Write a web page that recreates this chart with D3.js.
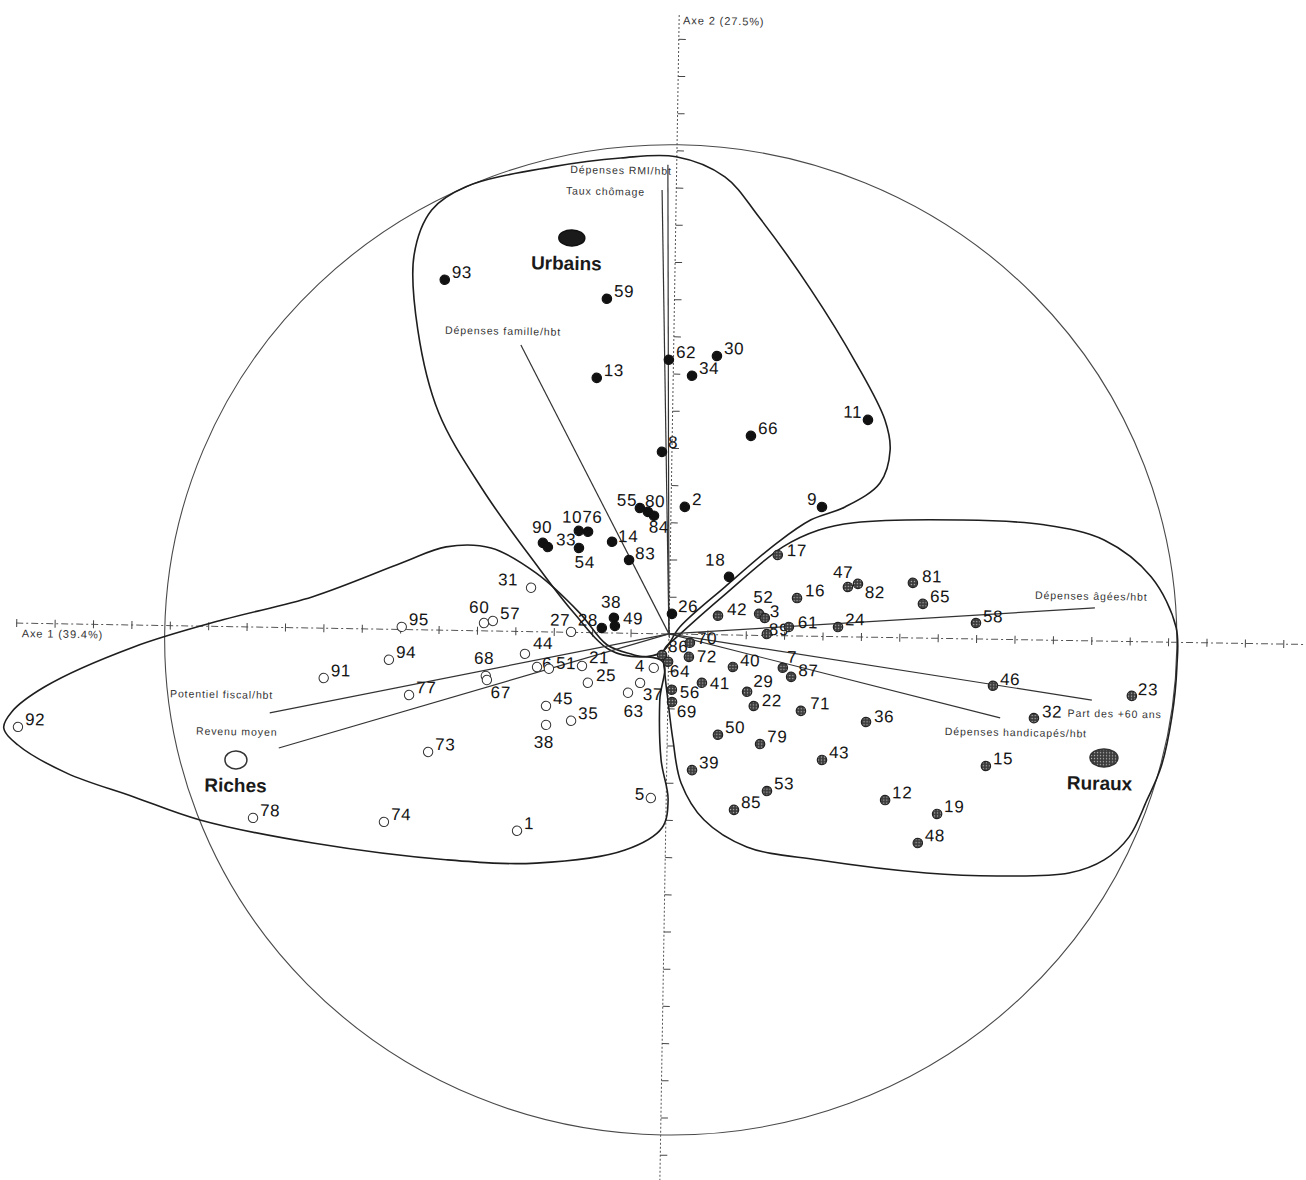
<!DOCTYPE html>
<html>
<head>
<meta charset="utf-8">
<script src="https://cdn.jsdelivr.net/npm/d3@7"></script>
<style>
  body { margin: 0; background: #fff; }
  svg { display: block; }
  text { font-family: "Liberation Sans", Arial, sans-serif; }
</style>
</head>
<body>
<svg id="chart" width="1306" height="1180"></svg>
<script>
// ------------------------------- DATA below ----------------------------------------------

// Axis titles (share of inertia)
const axisTitles = ['Axe 1 (39.4%)', 'Axe 2 (27.5%)'];

// Departements - [number, axe 1, axe 2] (tick units)
const urbains = [
  ['93', -5.99, 9.42], ['59', -1.76, 8.98], ['62', -0.12, 7.37], ['30', 1.13, 7.49],
  ['34', 0.49, 6.95], ['13', -1.99, 6.85], ['11', 5.09, 5.84], ['66', 2.05, 5.36],
  ['8', -0.26, 4.89], ['9', 3.93, 3.48], ['2', 0.36, 3.42], ['55', -0.81, 3.37],
  ['80', -0.60, 3.27], ['84', -0.44, 3.17], ['10', -2.39, 2.73], ['76', -2.15, 2.71],
  ['90', -3.32, 2.39], ['33', -3.19, 2.28], ['54', -2.38, 2.27], ['14', -1.52, 2.45],
  ['83', -1.07, 1.97], ['18', 1.54, 1.56], ['26', 0.07, 0.54], ['38', -1.44, 0.41],
  ['49', -1.41, 0.19], ['28', -1.75, 0.13]
];

const ruraux = [
  ['17', 2.80, 2.17], ['42', 1.27, 0.51], ['52', 2.34, 0.58], ['3', 2.49, 0.47],
  ['89', 2.55, 0.04], ['61', 3.12, 0.24], ['16', 3.32, 1.02], ['47', 4.64, 1.34],
  ['82', 4.90, 1.43], ['24', 4.40, 0.26], ['81', 6.33, 1.48], ['65', 6.60, 0.92],
  ['58', 7.99, 0.43], ['70', 0.55, -0.23], ['86', -0.17, -0.57], ['72', 0.53, -0.61],
  ['64', -0.01, -0.75], ['41', 0.88, -1.30], ['40', 1.68, -0.86], ['56', 0.10, -1.50],
  ['69', 0.11, -1.83], ['50', 1.32, -2.69], ['29', 2.06, -1.52], ['22', 2.24, -1.90],
  ['7', 2.98, -0.86], ['87', 3.20, -1.10], ['71', 3.47, -2.01], ['46', 8.46, -1.25],
  ['36', 5.17, -2.28], ['23', 12.08, -1.46], ['32', 9.54, -2.10], ['15', 8.31, -3.41],
  ['43', 4.04, -3.32], ['79', 2.42, -2.92], ['39', 0.66, -3.65], ['53', 2.62, -4.18],
  ['85', 1.77, -4.70], ['12', 5.70, -4.37], ['19', 7.06, -4.72], ['48', 6.57, -5.51]
];

const riches = [
  ['31', -3.61, 1.18], ['95', -6.96, 0.07], ['60', -4.82, 0.21], ['57', -4.59, 0.27],
  ['27', -2.55, 0.01], ['94', -7.28, -0.82], ['91', -8.97, -1.34], ['68', -4.75, -1.21],
  ['67', -4.72, -1.32], ['77', -6.74, -1.76], ['92', -16.91, -2.79], ['73', -6.22, -3.28],
  ['78', -10.75, -5.13], ['74', -7.34, -5.18], ['1', -3.87, -5.36], ['5', -0.40, -4.42],
  ['44', -3.74, -0.60], ['6', -3.42, -0.95], ['51', -3.11, -0.99], ['21', -2.25, -0.90],
  ['25', -2.09, -1.35], ['4', -0.38, -0.92], ['37', -0.73, -1.33], ['63', -1.04, -1.60],
  ['45', -3.17, -1.99], ['35', -2.51, -2.38], ['38', -3.16, -2.50]
];

// Active variables - [name, axe 1, axe 2]
const variables = [
  ['Dépenses RMI/hbt', -0.23, 12.61],
  ['Taux chômage', -0.37, 11.93],
  ['Dépenses famille/hbt', -3.98, 7.70],
  ['Potentiel fiscal/hbt', -10.36, -2.30],
  ['Revenu moyen', -10.11, -3.24],
  ['Dépenses âgées/hbt', 11.08, 0.89],
  ['Part des +60 ans', 11.04, -1.59],
  ['Dépenses handicapés/hbt', 8.66, -2.11]
];

// Class centres - [name, axe 1, axe 2]
const classes = [
  ['Urbains', -2.70, 10.60],
  ['Riches', -11.22, -3.58],
  ['Ruraux', 11.38, -3.14]
];

// Hand drawn class outlines
const urbainsHull = [
  [-0.17, -0.49], [-0.75, -0.63], [-1.53, -0.46], [-2.51, 0.55], [-3.52, 1.85], [-4.91, 3.79],
  [-6.09, 5.84], [-6.67, 8.06], [-6.80, 10.07], [-6.36, 11.29], [-5.48, 11.93], [-3.25, 12.50],
  [-1.46, 12.77], [-0.02, 12.83], [1.26, 12.31], [2.16, 11.25], [3.55, 9.31], [4.75, 7.37],
  [5.53, 5.85], [5.68, 5.04], [5.43, 4.15], [4.53, 3.49], [3.65, 3.13], [2.77, 2.49],
  [1.44, 1.29], [0.28, 0.19]
];
const richesHull = [
  [-0.14, -0.76], [-0.21, -1.78], [-0.15, -3.39], [0.05, -4.46], [-0.10, -5.22], [-1.05, -5.83],
  [-3.36, -6.22], [-5.71, -6.17], [-9.18, -5.78], [-12.13, -5.21], [-13.86, -4.62], [-15.62, -4.01],
  [-16.91, -3.27], [-17.28, -2.82], [-17.08, -2.39], [-16.23, -1.70], [-13.93, -0.59], [-11.62, 0.18],
  [-9.29, 0.84], [-6.98, 1.79], [-5.84, 2.24], [-4.67, 2.23], [-3.49, 1.58], [-2.33, 0.52],
  [-1.61, -0.32], [-0.90, -0.58]
];
const rurauxHull = [
  [0.24, -0.05], [1.49, 1.13], [2.93, 2.39], [3.86, 2.86], [4.77, 3.07], [7.55, 3.19],
  [9.72, 3.10], [11.29, 2.72], [12.53, 1.75], [13.20, 0.41], [13.24, -0.66], [13.13, -2.01],
  [12.87, -3.36], [12.52, -4.25], [12.07, -5.25], [11.43, -5.88], [10.52, -6.25], [8.65, -6.36],
  [6.80, -6.31], [4.00, -6.01], [2.12, -5.69], [0.99, -4.98], [0.38, -4.00], [0.15, -2.85],
  [0.00, -1.77], [-0.09, -1.05], [-0.12, -0.43]
];

// Correlation circle (centre and radii, tick units)
const circleCentre = [0.05, -0.16];
const circleRadius = [13.18, 13.31];

// ------------------------------- LAYOUT below ----------------------------------------------

const width = 1306;
const height = 1180;
const tilt = 0.95; // the scanned figure is slightly turned

// label offsets [dx, dy, anchor] - default is to the right of the marker
const labelPos = {
  u11: [-6, -2, 'end'], u9: [-5, -2, 'end'], u8: [6, -4], u55: [-3, -2, 'end'], u80: [-3, -5],
  u84: [-5, 17], u10: [3, -8, 'end'], u76: [-6, -9], u90: [-1, -10, 'middle'], u33: [8, -2],
  u54: [-4, 20], u14: [6, 0], u83: [6, -1], u18: [-4, -11, 'end'], u26: [6, -2],
  u38: [-3, -10, 'middle'], u49: [8, -2], u28: [-4, -2, 'end'],
  r27: [-1, -6, 'end'], r31: [-13, -2, 'end'], r60: [-5, -10, 'middle'], r57: [7, -2],
  r68: [-2, -12, 'middle'], r67: [4, 18], r5: [-6, 2, 'end'], r44: [8, -5], r6: [5, 2],
  r51: [7, 0], r21: [7, -3], r25: [8, -2], r4: [-9, 4, 'end'], r37: [3, 17],
  r63: [6, 24, 'middle'], r38: [-2, 23, 'middle'],
  g86: [6, -3], g64: [2, 15], g70: [7, 1], g72: [8, 5], g56: [8, 8], g69: [5, 15], g41: [8, 6],
  g40: [7, -1], g29: [6, -5], g22: [8, 0], g7: [4, -5], g87: [7, -1], g71: [9, -2], g17: [9, 1],
  g42: [9, -1], g52: [-6, -11], g3: [5, -1], g89: [2, 1], g61: [9, 1], g16: [8, -2],
  g47: [-15, -9], g82: [7, 14], g24: [7, -2], g81: [9, -1], g65: [7, -2], g58: [7, -1],
  g46: [7, -1], g23: [6, -1], g32: [8, -1], g36: [8, 0]
};

// variable label offsets from the arrow end [dx, dy, anchor]
const varLabelPos = {
  'Dépenses RMI/hbt': [4, 10, 'end'],
  'Taux chômage': [-17, 6, 'end'],
  'Dépenses famille/hbt': [-76, -10, 'start'],
  'Potentiel fiscal/hbt': [-100, -14, 'start'],
  'Revenu moyen': [-83, -12, 'start'],
  'Dépenses âgées/hbt': [-60, -8, 'start'],
  'Part des +60 ans': [-24, 17, 'start'],
  'Dépenses handicapés/hbt': [-55, 18, 'start']
};

// ------------------------------- D3 * CHART ----------------------------------------------

const x = d3.scaleLinear().domain([-17.42, 16.59]).range([0, width]);
const y = d3.scaleLinear().domain([17.04, -14.68]).range([0, height]);

const svg = d3.select('#chart');
svg.append('rect').attr('width', width).attr('height', height).attr('fill', '#fff');

// speckled fill for the rural markers
const defs = svg.append('defs');
const speckle = defs.append('pattern')
  .attr('id', 'speckle')
  .attr('patternUnits', 'userSpaceOnUse')
  .attr('width', 3)
  .attr('height', 3);
speckle.append('rect').attr('width', 3).attr('height', 3).attr('fill', '#3c3c3c');
speckle.append('circle').attr('cx', 1.5).attr('cy', 1.5).attr('r', 0.7).attr('fill', '#b5b5b5');

const g = svg.append('g').attr('transform', `rotate(${tilt},${x(0)},${y(0)})`);

// correlation circle
g.append('ellipse')
  .attr('cx', x(circleCentre[0]))
  .attr('cy', y(circleCentre[1]))
  .attr('rx', x(circleRadius[0]) - x(0))
  .attr('ry', y(0) - y(circleRadius[1]))
  .attr('fill', 'none')
  .attr('stroke', '#4a4a4a')
  .attr('stroke-width', 1.1);

// axis 1
g.append('line')
  .attr('x1', x(-17)).attr('x2', width + 30)
  .attr('y1', y(0)).attr('y2', y(0))
  .attr('stroke', '#555').attr('stroke-width', 1)
  .attr('stroke-dasharray', '7,3,2,3');
g.append('g')
  .attr('transform', `translate(0,${y(0) - 4})`)
  .call(d3.axisBottom(x).tickValues(d3.range(-17, 17)).tickSize(8).tickFormat(''))
  .call((a) => a.select('.domain').remove())
  .selectAll('line').attr('stroke', '#444');

// axis 2
g.append('line')
  .attr('x1', x(0)).attr('x2', x(0))
  .attr('y1', y(16.64)).attr('y2', height + 30)
  .attr('stroke', '#555').attr('stroke-width', 1)
  .attr('stroke-dasharray', '2,2');
g.append('g')
  .attr('transform', `translate(${x(0)},0)`)
  .call(d3.axisRight(y).tickValues(d3.range(-14, 17)).tickSize(7).tickFormat(''))
  .call((a) => a.select('.domain').remove())
  .selectAll('line').attr('stroke', '#444');

// axis titles
g.append('text')
  .attr('x', x(-16.85)).attr('y', y(0) + 14)
  .attr('font-size', 11).attr('letter-spacing', 0.9).attr('fill', '#333')
  .text(axisTitles[0]);
g.append('text')
  .attr('x', x(0) + 4).attr('y', 24)
  .attr('font-size', 11).attr('letter-spacing', 0.9).attr('fill', '#333')
  .text(axisTitles[1]);

// class outlines
const hullLine = d3.line()
  .x((d) => x(d[0]))
  .y((d) => y(d[1]))
  .curve(d3.curveCatmullRomClosed.alpha(0.5));

g.selectAll('path.hull')
  .data([urbainsHull, richesHull, rurauxHull])
  .join('path')
  .attr('class', 'hull')
  .attr('d', hullLine)
  .attr('fill', 'none')
  .attr('stroke', '#1e1e1e')
  .attr('stroke-width', 1.6);

// variable arrows
g.selectAll('line.var')
  .data(variables)
  .join('line')
  .attr('class', 'var')
  .attr('x1', x(0)).attr('y1', y(0))
  .attr('x2', (d) => x(d[1]))
  .attr('y2', (d) => y(d[2]))
  .attr('stroke', '#333')
  .attr('stroke-width', 1.2);

g.selectAll('text.var')
  .data(variables)
  .join('text')
  .attr('class', 'var')
  .attr('x', (d) => x(d[1]) + varLabelPos[d[0]][0])
  .attr('y', (d) => y(d[2]) + varLabelPos[d[0]][1])
  .attr('text-anchor', (d) => varLabelPos[d[0]][2])
  .attr('font-size', 10.5)
  .attr('letter-spacing', 0.9)
  .attr('fill', '#333')
  .text((d) => d[0]);

// departements
const groups = [
  { key: 'u', rows: urbains, fill: '#111', stroke: '#111' },
  { key: 'g', rows: ruraux, fill: 'url(#speckle)', stroke: '#222' },
  { key: 'r', rows: riches, fill: '#fff', stroke: '#333' }
];

groups.forEach((grp) => {
  const layer = g.append('g');

  layer.selectAll('text')
    .data(grp.rows)
    .join('text')
    .each(function (d) {
      const pos = labelPos[grp.key + d[0]] || [7, -2, 'start'];
      d3.select(this)
        .attr('x', x(d[1]) + pos[0])
        .attr('y', y(d[2]) + pos[1])
        .attr('text-anchor', pos[2] || 'start');
    })
    .attr('font-size', 17)
    .attr('letter-spacing', 0.6)
    .attr('fill', '#151515')
    .text((d) => d[0]);

  layer.selectAll('circle')
    .data(grp.rows)
    .join('circle')
    .attr('cx', (d) => x(d[1]))
    .attr('cy', (d) => y(d[2]))
    .attr('r', 4.7)
    .attr('fill', grp.fill)
    .attr('stroke', grp.stroke)
    .attr('stroke-width', grp.key === 'r' ? 1 : 1.2);
});

// class centres
const classStyle = {
  Urbains: { rx: 13, ry: 8, fill: '#1a1a1a', stroke: '#111', dx: -5 },
  Riches: { rx: 11, ry: 9, fill: '#fff', stroke: '#333', dx: 0 },
  Ruraux: { rx: 14, ry: 9, fill: 'url(#speckle)', stroke: '#333', dx: -4 }
};

g.selectAll('ellipse.centre')
  .data(classes)
  .join('ellipse')
  .attr('class', 'centre')
  .attr('cx', (d) => x(d[1]))
  .attr('cy', (d) => y(d[2]))
  .attr('rx', (d) => classStyle[d[0]].rx)
  .attr('ry', (d) => classStyle[d[0]].ry)
  .attr('fill', (d) => classStyle[d[0]].fill)
  .attr('stroke', (d) => classStyle[d[0]].stroke)
  .attr('stroke-width', 1.5);

g.selectAll('text.centre')
  .data(classes)
  .join('text')
  .attr('class', 'centre')
  .attr('x', (d) => x(d[1]) + classStyle[d[0]].dx)
  .attr('y', (d) => y(d[2]) + 32)
  .attr('text-anchor', 'middle')
  .attr('font-size', 19)
  .attr('font-weight', 'bold')
  .attr('fill', '#1a1a1a')
  .text((d) => d[0]);
</script>
</body>
</html>
